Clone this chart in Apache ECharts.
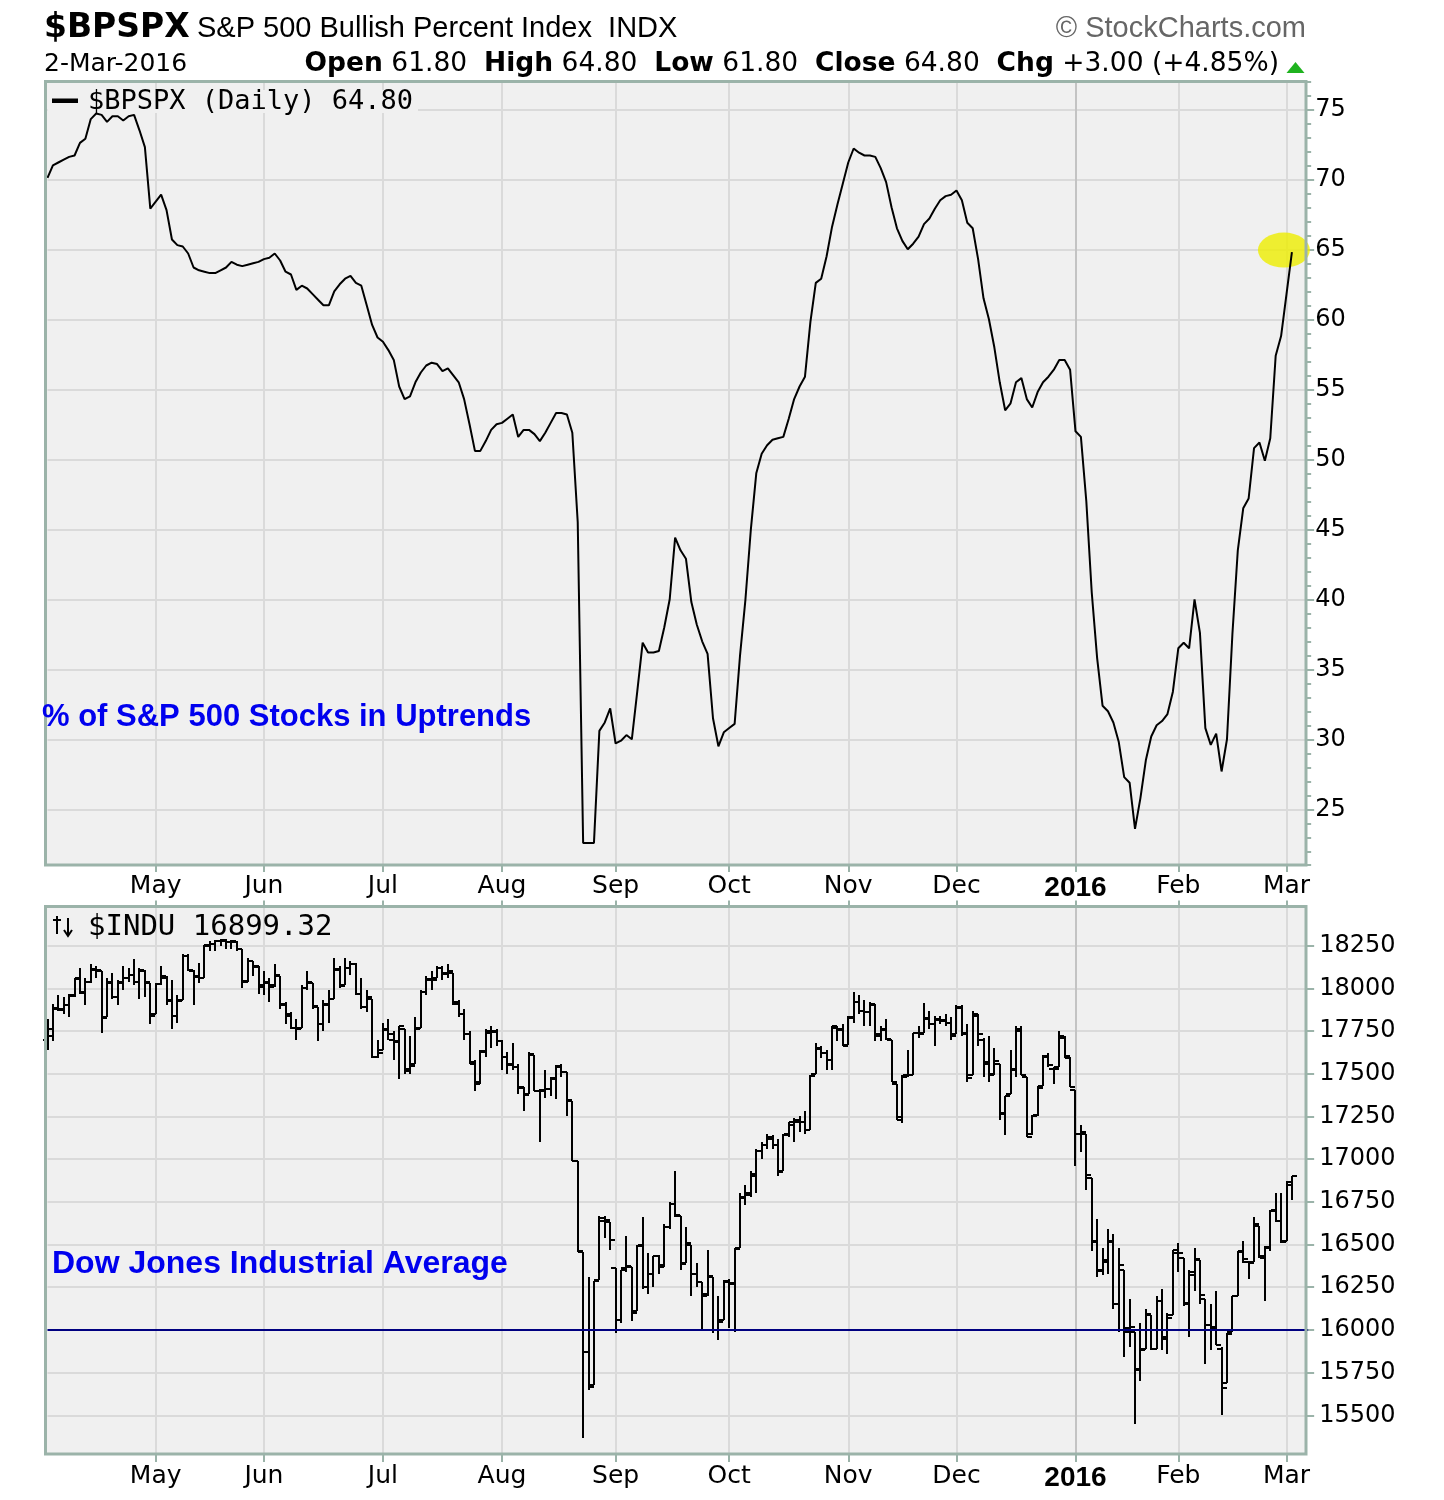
<!DOCTYPE html>
<html>
<head>
<meta charset="utf-8">
<script src="https://cdn.jsdelivr.net/npm/echarts@6/dist/echarts.min.js"></script>
<style>
html,body{margin:0;padding:0;background:#ffffff;}
#chart{width:1444px;height:1500px;}
</style>
</head>
<body>
<div id="chart"></div>
<script>
// ---------------- DATA ----------------
const firstDay = '2015-04-02';
const lastDay = '2016-03-02';
const marketHolidays = ['2015-04-03','2015-05-25','2015-07-03','2015-09-07','2015-11-26','2015-12-25','2016-01-01','2016-01-18','2016-02-15'];
const padCategories = ['pad1','pad2','pad3'];
const monthNames = ['Jan','Feb','Mar','Apr','May','Jun','Jul','Aug','Sep','Oct','Nov','Dec'];

// $BPSPX daily closes (one per trading day)
const bpspxValues = [
70.1,71.0,71.2,71.4,71.6,71.7,72.6,72.9,74.3,74.7,
74.6,74.1,74.5,74.5,74.2,74.5,74.6,73.5,72.3,67.9,
68.4,68.9,67.8,65.7,65.3,65.2,64.7,63.7,63.5,63.4,
63.3,63.3,63.5,63.7,64.1,63.9,63.8,63.9,64.0,64.1,
64.3,64.4,64.7,64.2,63.4,63.2,62.1,62.4,62.2,61.8,
61.4,61.0,61.0,62.0,62.5,62.9,63.1,62.6,62.4,61.0,
59.6,58.7,58.4,57.8,57.1,55.2,54.3,54.5,55.5,56.2,
56.7,56.9,56.8,56.3,56.5,56.0,55.5,54.3,52.5,50.6,
50.6,51.3,52.1,52.5,52.6,52.9,53.2,51.6,52.1,52.1,
51.8,51.3,51.9,52.6,53.3,53.3,53.2,51.9,45.5,22.6,
22.6,22.6,30.6,31.2,32.2,29.7,29.9,30.3,30.0,33.4,
36.9,36.2,36.2,36.3,38.0,40.0,44.4,43.5,42.9,39.8,
38.2,37.0,36.1,31.5,29.5,30.5,30.8,31.1,36.0,40.0,
45.0,49.0,50.4,51.0,51.4,51.5,51.6,52.9,54.3,55.2,
55.9,59.8,62.6,62.9,64.5,66.6,68.2,69.7,71.2,72.2,
71.9,71.7,71.7,71.6,70.8,69.8,68.0,66.5,65.6,65.0,
65.4,65.9,66.8,67.2,67.9,68.5,68.8,68.9,69.2,68.5,
66.9,66.5,64.3,61.5,60.0,58.0,55.5,53.5,54.0,55.5,
55.8,54.3,53.7,54.8,55.5,55.9,56.4,57.1,57.1,56.4,
52.0,51.6,47.0,40.5,35.8,32.4,32.0,31.2,29.8,27.3,
26.9,23.6,25.8,28.5,30.2,31.0,31.3,31.8,33.4,36.5,
36.9,36.5,40.0,37.6,30.8,29.6,30.4,27.7,30.0,37.5,
43.5,46.5,47.2,50.8,51.2,49.9,51.5,57.4,58.8,61.8,
64.8
];
const bpspxOpen = 61.80, bpspxHigh = 64.80, bpspxLow = 61.80;

// $INDU daily OHLC
const induOpen = [
17700,17720,17885,17880,17900,17960,18060,17975,18040,18110,
18100,17830,18040,17950,18030,18060,18080,18040,18100,18030,
17850,18025,18060,17930,17840,17930,18190,18100,18070,18060,
18250,18260,18280,18280,18270,18270,18230,18040,18160,18130,
18020,18030,18020,18070,17900,17840,17770,17770,18000,18030,
17890,17790,17910,17940,18110,18020,18120,18140,17970,17890,
17940,17600,17640,17760,17700,17690,17760,17530,17560,17770,
17980,18050,18060,18120,18090,18090,17910,17850,17730,17560,
17450,17630,17740,17750,17690,17600,17560,17540,17420,17380,
17610,17400,17400,17410,17470,17540,17510,17340,16990,16459,
15872,15676,16290,16640,16630,16360,16060,16360,16370,16110,
16500,16250,16330,16430,16380,16600,16740,16670,16390,16500,
16330,16280,16210,16310,16000,16060,16280,16270,16480,16770,
16800,16900,17050,17080,17120,17080,16930,17150,17200,17220,
17220,17170,17500,17650,17620,17580,17770,17760,17670,17830,
17920,17870,17860,17900,17720,17760,17700,17440,17230,17490,
17490,17740,17740,17820,17790,17820,17810,17800,17730,17890,
17740,17490,17840,17700,17560,17500,17560,17270,17380,17530,
17760,17480,17150,17260,17430,17600,17530,17540,17710,17590,
17405,17150,17150,16890,16520,16350,16410,16520,16150,16350,
16010,15990,15770,15890,16090,15890,16170,15960,16090,16450,
16420,16160,16320,16410,16180,16000,16020,15890,15690,15990,
16200,16460,16400,16400,16610,16420,16480,16700,16640,16520,
16850
];
const induHigh = [
17820,17910,17960,17950,17970,18060,18120,18060,18140,18130,
18100,18060,18090,18050,18130,18120,18175,18120,18110,18030,
18030,18130,18070,18050,17960,18200,18200,18110,18150,18255,
18275,18285,18290,18290,18285,18280,18230,18180,18160,18130,
18100,18060,18140,18070,17920,17860,17820,18020,18100,18030,
17890,17930,17990,18180,18130,18180,18160,18150,18060,17990,
17940,17700,17800,17820,17750,17780,17760,17720,17830,17990,
18070,18100,18130,18130,18140,18090,17930,17880,17750,17580,
17640,17760,17780,17760,17700,17630,17680,17560,17420,17630,
17610,17410,17520,17480,17550,17560,17510,17340,16990,16459,
16312,16285,16666,16670,16630,16360,16351,16550,16370,16500,
16660,16450,16434,16440,16620,16750,16930,16670,16600,16500,
16390,16280,16470,16310,16200,16290,16300,16480,16800,16850,
16930,17060,17100,17150,17140,17120,17150,17220,17240,17250,
17280,17490,17680,17660,17640,17780,17780,17790,17840,17977,
17960,17930,17920,17910,17780,17820,17700,17440,17490,17640,
17740,17780,17914,17870,17840,17840,17850,17830,17900,17900,
17790,17870,17850,17710,17720,17650,17560,17370,17640,17780,
17780,17480,17260,17430,17610,17620,17540,17750,17720,17600,
17405,17200,17150,16890,16650,16480,16590,16560,16480,16350,
16180,15990,16040,16120,16090,16200,16240,16100,16470,16510,
16420,16350,16480,16410,16180,16150,16230,15900,15980,16200,
16460,16520,16400,16660,16610,16490,16700,16800,16800,16870,
16900
];
const induLow = [
17640,17690,17870,17850,17830,17950,17970,17900,18030,18060,
17740,17830,17940,17900,17990,18040,18020,17940,17950,17790,
17850,18020,17900,17760,17800,17930,18100,17900,18030,18060,
18220,18220,18250,18230,18230,18220,18000,18040,18070,17970,
17960,17920,18010,17880,17790,17760,17700,17770,17990,17880,
17690,17750,17800,17940,18000,18020,18080,17960,17880,17860,
17590,17590,17640,17700,17580,17470,17500,17500,17560,17770,
17960,17990,18060,18050,18060,17900,17830,17700,17560,17400,
17440,17600,17650,17660,17520,17500,17520,17380,17280,17380,
17400,17100,17360,17370,17350,17480,17250,16990,16459,15370,
15651,15676,16290,16540,16470,15980,16040,16340,16050,16110,
16240,16210,16250,16330,16370,16590,16660,16350,16390,16200,
16250,16000,16200,15980,15940,16060,16010,15990,16480,16730,
16780,16800,17000,17060,17060,16900,16930,17130,17100,17160,
17150,17170,17500,17590,17520,17520,17690,17660,17670,17800,
17850,17780,17780,17690,17690,17700,17450,17230,17210,17480,
17490,17710,17740,17760,17660,17790,17780,17700,17730,17720,
17450,17490,17660,17480,17450,17490,17230,17140,17380,17480,
17490,17130,17140,17250,17430,17540,17440,17540,17590,17420,
16957,17040,16820,16460,16310,16320,16330,16120,15990,15840,
15900,15450,15700,15890,15880,15890,15880,15860,16090,16340,
16140,15960,16230,16150,15800,15880,15910,15503,15690,15990,
16200,16390,16300,16400,16420,16170,16460,16630,16510,16520,
16760
];
const induClose = [
17763,17880,17875,17902,17958,18057,17977,18036,18112,18105,
17826,18034,17949,18038,18058,18080,18037,18110,18035,17841,
18024,18070,17928,17841,17924,18191,18105,18068,18060,18252,
18262,18280,18285,18270,18275,18232,18041,18162,18126,18010,
18040,18011,18076,17906,17849,17766,17764,18000,18039,17898,
17791,17905,17935,18115,18015,18119,18144,17966,17890,17947,
17596,17620,17757,17731,17684,17777,17515,17548,17760,17977,
18054,18050,18120,18086,18100,17919,17851,17731,17569,17441,
17631,17751,17746,17690,17598,17551,17541,17419,17373,17615,
17402,17403,17409,17477,17546,17512,17349,16991,16460,15871,
15666,16285,16655,16643,16528,16058,16351,16374,16102,16492,
16253,16330,16433,16370,16600,16740,16675,16385,16510,16330,
16280,16201,16314,16001,16049,16285,16272,16472,16777,16790,
16912,17050,17084,17131,17082,16925,17142,17216,17230,17218,
17169,17489,17647,17623,17581,17780,17756,17663,17829,17919,
17868,17863,17910,17731,17758,17703,17449,17245,17484,17490,
17738,17733,17824,17792,17812,17813,17798,17720,17888,17730,
17478,17848,17731,17568,17493,17575,17265,17368,17525,17750,
17495,17128,17252,17418,17603,17552,17528,17721,17604,17425,
17149,17159,16907,16515,16347,16399,16516,16152,16380,15988,
16016,15767,15882,16094,15886,16167,15944,16070,16466,16449,
16154,16337,16417,16205,16027,16014,15914,15660,15974,16196,
16454,16414,16392,16620,16431,16485,16698,16640,16517,16865,
16899.32
];

// tick labels of the lower panel's price axis
const induTickValues = [15500,15750,16000,16250,16500,16750,17000,17250,17500,17750,18000,18250];
const induReferenceLevel = 16000;

// ---------------- CATEGORIES ----------------
function buildTradingDays(first, last, holidays) {
  const hol = new Set(holidays);
  const out = [];
  const d = new Date(first + 'T00:00:00Z');
  const end = new Date(last + 'T00:00:00Z');
  while (d <= end) {
    const wd = d.getUTCDay();
    const s = d.toISOString().slice(0, 10);
    if (wd !== 0 && wd !== 6 && !hol.has(s)) out.push(s);
    d.setUTCDate(d.getUTCDate() + 1);
  }
  return out;
}
const tradingDays = buildTradingDays(firstDay, lastDay, marketHolidays);
const categories = tradingDays.concat(padCategories);
const monthStarts = new Set();
for (let i = 1; i < tradingDays.length; i++) {
  if (tradingDays[i].slice(5, 7) !== tradingDays[i - 1].slice(5, 7)) monthStarts.add(i);
}
const isMonthStart = (idx) => monthStarts.has(idx);

// ---------------- STYLE ----------------
const PLOT_BG = '#f0f0f0';
const GRID_LINE = '#dadada';
const YEAR_LINE = '#c3c3c3';
const BORDER = '#9bb3a9';
const X0 = 47.5, STEP = 5.4105;
const gridRightX = X0 + (categories.length - 1) * STEP;
const CW = 1444;

const monthLineColors = Array.from(monthStarts).sort((a, b) => a - b)
  .map(i => tradingDays[i].slice(5, 7) === '01' ? YEAR_LINE : GRID_LINE);

function monthLabel(value) {
  if (!value || value.indexOf('-') < 0) return '';
  const m = +value.slice(5, 7);
  if (m === 1) return '{yr|' + value.slice(0, 4) + '}';
  return monthNames[m - 1];
}

const xLabelStyle = {
  interval: (i) => isMonthStart(i),
  formatter: monthLabel,
  color: '#000',
  fontFamily: 'DejaVu Sans',
  fontSize: 25,
  hideOverlap: false,
  rich: { yr: { fontFamily: 'Liberation Sans', fontWeight: 'bold', fontSize: 28, color: '#000' } }
};

function renderOHLC(params, api) {
  const idx = api.value(0);
  const pO = api.coord([idx, api.value(1)]);
  const pH = api.coord([idx, api.value(2)]);
  const pL = api.coord([idx, api.value(3)]);
  const pC = api.coord([idx, api.value(4)]);
  const x = Math.round(pO[0]);
  const st = { stroke: '#000', lineWidth: 2 };
  return {
    type: 'group',
    children: [
      { type: 'line', shape: { x1: x, y1: Math.round(pH[1]), x2: x, y2: Math.round(pL[1]) }, style: st },
      { type: 'line', shape: { x1: x - 5, y1: Math.round(pO[1]), x2: x, y2: Math.round(pO[1]) }, style: st },
      { type: 'line', shape: { x1: x, y1: Math.round(pC[1]), x2: x + 5, y2: Math.round(pC[1]) }, style: st }
    ]
  };
}

const ohlcData = induClose.map((c, i) => [i, induOpen[i], induHigh[i], induLow[i], c]);
const lastIdx = bpspxValues.length - 1;
const bpspxClose = bpspxValues[lastIdx];
const bpspxPrev = bpspxValues[lastIdx - 1];
const chg = bpspxClose - bpspxPrev;
const chgPct = chg / bpspxPrev * 100;
const induLast = induClose[induClose.length - 1];

const headerLine2 = '{b|Open} ' + bpspxOpen.toFixed(2) + '  {b|High} ' + bpspxHigh.toFixed(2) +
  '  {b|Low} ' + bpspxLow.toFixed(2) + '  {b|Close} ' + bpspxClose.toFixed(2) +
  '  {b|Chg} ' + (chg >= 0 ? '+' : '') + chg.toFixed(2) + ' (' + (chgPct >= 0 ? '+' : '') + chgPct.toFixed(2) + '%)';

const dateLabel = (() => {
  const d = tradingDays[tradingDays.length - 1];
  return (+d.slice(8, 10)) + '-' + monthNames[+d.slice(5, 7) - 1] + '-' + d.slice(0, 4);
})();

const chart = echarts.init(document.getElementById('chart'), null, { renderer: 'canvas', width: 1444, height: 1500 });

const option = {
  animation: false,
  backgroundColor: '#ffffff',
  grid: [
    { left: X0, right: CW - gridRightX, top: 82, height: 783, show: false, containLabel: false, outerBoundsMode: 'none' },
    { left: X0, right: CW - gridRightX, top: 903, height: 555, show: false, containLabel: false, outerBoundsMode: 'none' }
  ],
  xAxis: [
    {
      gridIndex: 0, type: 'category', data: categories, boundaryGap: false, position: 'bottom',
      axisLine: { show: false },
      axisTick: { show: true, interval: (i) => isMonthStart(i), length: 7, lineStyle: { color: BORDER, width: 2 } },
      axisLabel: Object.assign({ margin: 9 }, xLabelStyle),
      splitLine: { show: true, interval: (i) => isMonthStart(i), lineStyle: { color: monthLineColors, width: 2 } }
    },
    {
      gridIndex: 1, type: 'category', data: categories, boundaryGap: false, position: 'bottom', offset: -4,
      axisLine: { show: false },
      axisTick: { show: true, interval: (i) => isMonthStart(i), length: 8, lineStyle: { color: BORDER, width: 2 } },
      axisLabel: Object.assign({ margin: 10 }, xLabelStyle),
      splitLine: { show: true, interval: (i) => isMonthStart(i), lineStyle: { color: monthLineColors, width: 2 } }
    },
    {
      gridIndex: 1, type: 'category', data: categories, boundaryGap: false, position: 'top', offset: -3.5,
      axisLine: { show: false },
      axisTick: { show: true, interval: (i) => isMonthStart(i), length: 6, lineStyle: { color: BORDER, width: 2 } },
      axisLabel: { show: false },
      splitLine: { show: false }
    }
  ],
  yAxis: [
    {
      gridIndex: 0, type: 'value', position: 'right', min: 21.02, max: 76.95, splitNumber: 11, offset: -2,
      axisLine: { show: false },
      axisTick: { show: true, length: 8, lineStyle: { color: BORDER, width: 2 } },
      axisLabel: { showMinLabel: false, showMaxLabel: false, margin: 9, color: '#000', fontFamily: 'DejaVu Sans', fontSize: 24 },
      splitLine: { show: true, lineStyle: { color: GRID_LINE, width: 2 } }
    },
    {
      gridIndex: 0, type: 'value', position: 'right', min: 21.02, max: 76.95, splitNumber: 56, offset: -2,
      axisLine: { show: false },
      axisTick: { show: true, length: 5, lineStyle: { color: BORDER, width: 2 } },
      axisLabel: { show: false },
      splitLine: { show: false }
    },
    {
      gridIndex: 1, type: 'value', position: 'right', min: 15250, max: 18500, interval: 250, offset: -2,
      axisLine: { show: false },
      axisTick: { show: true, customValues: induTickValues, length: 8, lineStyle: { color: BORDER, width: 2 } },
      axisLabel: { customValues: induTickValues, formatter: (v) => String(v), margin: 13, color: '#000', fontFamily: 'DejaVu Sans', fontSize: 24 },
      splitLine: { show: true, lineStyle: { color: GRID_LINE, width: 2 } }
    }
  ],
  series: [
    {
      type: 'scatter', xAxisIndex: 0, yAxisIndex: 0, silent: true, z: 1,
      data: [[lastIdx, bpspxClose]],
      symbol: 'circle', symbolSize: [52, 35], symbolOffset: [-8, -2],
      itemStyle: { color: '#eeee00' }
    },
    {
      type: 'line', xAxisIndex: 0, yAxisIndex: 0, z: 2,
      data: bpspxValues, symbol: 'none', showSymbol: false,
      lineStyle: { color: '#000', width: 2 }
    },
    {
      type: 'line', xAxisIndex: 1, yAxisIndex: 2, z: 1, data: [], symbol: 'none',
      markLine: {
        silent: true, symbol: ['none', 'none'], label: { show: false },
        lineStyle: { color: '#000080', width: 2, type: 'solid' },
        data: [{ yAxis: induReferenceLevel }]
      }
    },
    {
      type: 'custom', xAxisIndex: 1, yAxisIndex: 2, z: 2,
      data: ohlcData, renderItem: renderOHLC,
      encode: { x: 0, y: [1, 2, 3, 4] }
    }
  ],
  graphic: [
    // panel backgrounds
    { type: 'rect', silent: true, z: -10, shape: { x: 45.5, y: 81.5, width: 1260.5, height: 783.5 }, style: { fill: PLOT_BG } },
    { type: 'rect', silent: true, z: -10, shape: { x: 45.5, y: 906.5, width: 1260.5, height: 547.5 }, style: { fill: PLOT_BG } },
    // legend backdrop (hides gridline under legend)
    { type: 'rect', silent: true, z: 1, shape: { x: 48, y: 90, width: 370, height: 23 }, style: { fill: PLOT_BG } },
    // panel borders
    { type: 'rect', silent: true, z: 10, shape: { x: 45.5, y: 81.5, width: 1260.5, height: 783.5 }, style: { fill: null, stroke: BORDER, lineWidth: 3 } },
    { type: 'rect', silent: true, z: 10, shape: { x: 45.5, y: 906.5, width: 1260.5, height: 547.5 }, style: { fill: null, stroke: BORDER, lineWidth: 3 } },
    // header
    { type: 'text', z: 20, x: 44, y: 28, style: { text: '$BPSPX', font: 'bold 33px "DejaVu Sans"', fill: '#000', align: 'left', verticalAlign: 'middle' } },
    { type: 'text', z: 20, x: 197, y: 29, style: { text: 'S&P 500 Bullish Percent Index  INDX', font: '29px "Liberation Sans"', fill: '#000', align: 'left', verticalAlign: 'middle' } },
    { type: 'text', z: 20, x: 1306, y: 28.5, style: { text: '\u00A9 StockCharts.com', font: '29px "Liberation Sans"', fill: '#666666', align: 'right', verticalAlign: 'middle' } },
    { type: 'text', z: 20, x: 44, y: 64, style: { text: dateLabel, font: '25px "DejaVu Sans"', fill: '#000', align: 'left', verticalAlign: 'middle' } },
    { type: 'text', z: 20, x: 1279, y: 64, style: { text: headerLine2, font: '26.5px "DejaVu Sans"', fill: '#000', align: 'right', verticalAlign: 'middle',
      rich: { b: { fontWeight: 'bold', fontSize: 26.5, fontFamily: 'DejaVu Sans', fill: '#000' } } } },
    { type: 'polygon', silent: true, z: 20, shape: { points: [[1286.5, 73], [1304.5, 73], [1295.5, 62]] }, style: { fill: '#1fb31f' } },
    // top legend
    { type: 'rect', silent: true, z: 20, shape: { x: 52, y: 98.5, width: 26, height: 4.5 }, style: { fill: '#000' } },
    { type: 'text', z: 20, x: 88, y: 102, style: { text: '$BPSPX (Daily) ' + bpspxClose.toFixed(2), font: '27px "DejaVu Sans Mono"', fill: '#000', align: 'left', verticalAlign: 'middle' } },
    // bottom legend icon (OHLC glyph)
    { type: 'line', silent: true, z: 20, shape: { x1: 57, y1: 916, x2: 57, y2: 934 }, style: { stroke: '#000', lineWidth: 2 } },
    { type: 'line', silent: true, z: 20, shape: { x1: 53, y1: 920, x2: 61, y2: 920 }, style: { stroke: '#000', lineWidth: 2 } },
    { type: 'line', silent: true, z: 20, shape: { x1: 68, y1: 918, x2: 68, y2: 936 }, style: { stroke: '#000', lineWidth: 2 } },
    { type: 'polyline', silent: true, z: 20, shape: { points: [[64, 930], [68, 936], [72, 930]] }, style: { stroke: '#000', lineWidth: 2, fill: null } },
    { type: 'text', z: 20, x: 88, y: 927, style: { text: '$INDU ' + induLast.toFixed(2), font: '29px "DejaVu Sans Mono"', fill: '#000', align: 'left', verticalAlign: 'middle' } },
    // annotations
    { type: 'text', z: 20, x: 42, y: 717, style: { text: '% of S&P 500 Stocks in Uptrends', font: 'bold 31px "Liberation Sans"', fill: '#0000ee', align: 'left', verticalAlign: 'middle' } },
    { type: 'text', z: 20, x: 52, y: 1264, style: { text: 'Dow Jones Industrial Average', font: 'bold 32px "Liberation Sans"', fill: '#0000ee', align: 'left', verticalAlign: 'middle' } }
  ]
};

chart.setOption(option);
</script>
</body>
</html>
